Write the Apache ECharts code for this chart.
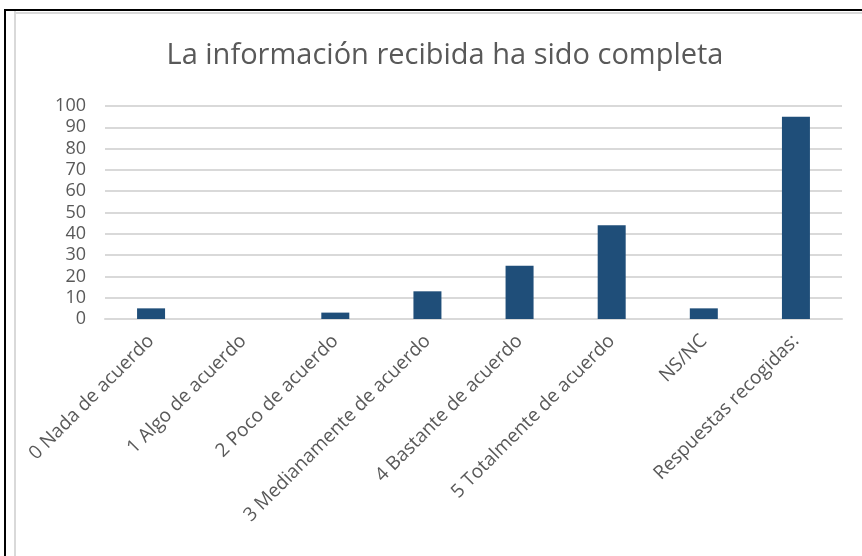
<!DOCTYPE html>
<html>
<head>
<meta charset="utf-8">
<script src="https://cdn.jsdelivr.net/npm/echarts@6/dist/echarts.min.js"></script>
<style>
  html, body { margin: 0; padding: 0; background: #fff; }
  #main { width: 862px; height: 556px; }
</style>
</head>
<body>
<div id="main"></div>
<script>
  // categorias del eje x
  var categories = ['0 Nada de acuerdo', '1 Algo de acuerdo', '2 Poco de acuerdo',
    '3 Medianamente de acuerdo', '4 Bastante de acuerdo', '5 Totalmente de acuerdo',
    'NS/NC', 'Respuestas recogidas:'];
  var values = [5, 0, 3, 13, 25, 44, 5, 95];

  var textColor = '#595959';
  var font = '"Open Sans", "Noto Sans", sans-serif';

  var myChart = echarts.init(document.getElementById('main'));
  var option = {
    animation: false,
    backgroundColor: '#fff',
    title: {
      text: 'La información recibida ha sido completa',
      left: 440,
      top: 36,
      textAlign: 'center',
      textStyle: {
        color: textColor,
        fontSize: 29,
        fontWeight: 'normal',
        fontFamily: font
      }
    },
    // bordes del recuadro
    graphic: [
      { type: 'rect', shape: { x: 4, y: 9, width: 2, height: 547 }, style: { fill: '#000' } },
      { type: 'rect', shape: { x: 4, y: 9, width: 858, height: 2 }, style: { fill: '#000' } },
      { type: 'rect', shape: { x: 14, y: 11, width: 2, height: 545 }, style: { fill: '#d9d9d9' } },
      { type: 'rect', shape: { x: 14, y: 12, width: 848, height: 2 }, style: { fill: '#d9d9d9' } }
    ],
    grid: {
      left: 105,
      right: 20,
      top: 106,
      bottom: 237
    },
    xAxis: {
      type: 'category',
      data: categories,
      axisLine: { lineStyle: { color: '#d9d9d9', width: 2 } },
      axisTick: { show: false },
      axisLabel: {
        rotate: 45,
        interval: 0,
        margin: 19,
        color: textColor,
        fontSize: 19,
        fontFamily: font
      }
    },
    yAxis: {
      type: 'value',
      min: 0,
      max: 100,
      interval: 10,
      axisLine: { show: false },
      axisTick: { show: false },
      splitLine: { lineStyle: { color: '#d9d9d9', width: 2 } },
      axisLabel: {
        margin: 19,
        color: textColor,
        fontSize: 18,
        fontFamily: font
      }
    },
    series: [{
      type: 'bar',
      data: values,
      barWidth: 28,
      itemStyle: { color: '#1f4e79' }
    }]
  };
  myChart.setOption(option);
</script>
</body>
</html>
